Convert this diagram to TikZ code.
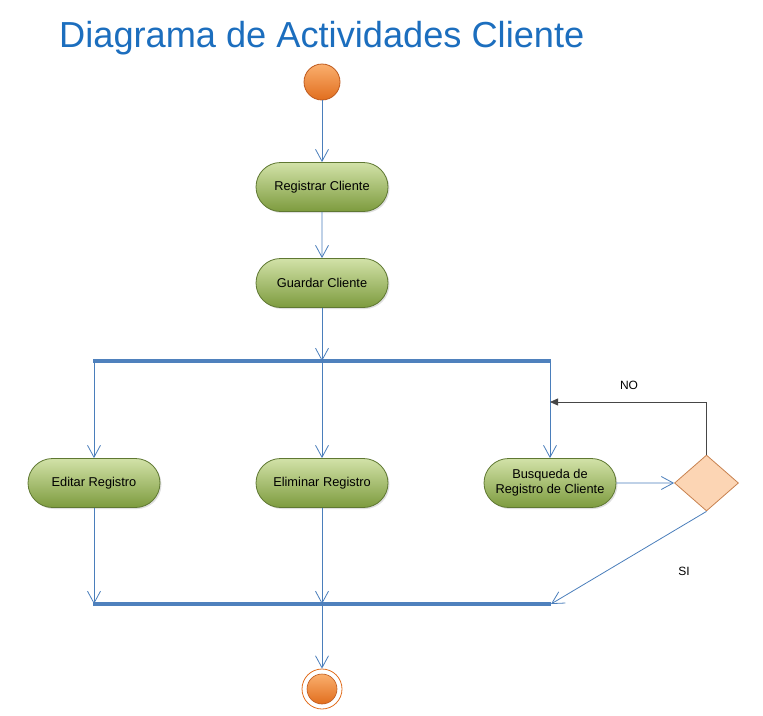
\documentclass[tikz,border=0pt]{standalone}
\usepackage{fontspec}
\setmainfont{Liberation Sans}
\usetikzlibrary{arrows.meta,shapes.geometric,shapes.misc,shadows}
\definecolor{titleblue}{RGB}{28,110,190}
\definecolor{lineblue}{RGB}{74,126,187}
\definecolor{barblue}{RGB}{79,129,189}
\definecolor{greentop}{RGB}{210,226,168}
\definecolor{greenbot}{RGB}{125,155,62}
\definecolor{greenborder}{RGB}{95,120,50}
\definecolor{orangetop}{RGB}{250,175,110}
\definecolor{orangebot}{RGB}{225,110,30}
\definecolor{orangeborder}{RGB}{190,90,30}
\definecolor{peach}{RGB}{252,213,180}
\definecolor{peachborder}{RGB}{200,130,80}
\definecolor{nogray}{RGB}{70,70,70}
\tikzset{
  activity/.style={rounded rectangle, draw=greenborder, line width=0.8pt,
    top color=greentop, bottom color=greenbot, minimum width=136pt, minimum height=49pt,
    font=\fontsize{12.8}{15}\selectfont, align=center, inner sep=2pt,
    drop shadow={shadow xshift=1.5pt, shadow yshift=-1.5pt, opacity=0.25}},
  startnode/.style={circle, draw=orangeborder, line width=0.8pt, top color=orangetop,
    bottom color=orangebot, minimum size=36pt, inner sep=0pt},
  flow/.style={draw=lineblue, line width=0.8pt, -{Straight Barb[length=12pt,width=13pt,line width=0.8pt]}},
  bar/.style={draw=barblue, line width=4.5pt},
  decision/.style={diamond, draw=peachborder, line width=0.8pt, fill=peach,
    minimum width=64pt, minimum height=56pt, inner sep=0pt, aspect=1.14},
  lbl/.style={font=\fontsize{12}{14}\selectfont}
}
\begin{document}
\begin{tikzpicture}[x=1pt,y=-1pt]
\useasboundingbox (0,0) rectangle (763,715);
\node[anchor=base west, text=titleblue, font=\fontsize{36.2}{42}\selectfont, inner sep=0pt] (title) at (59,47) {Diagrama de Actividades Cliente};

\node[startnode] (start) at (322,82) {};
\node[activity] (reg) at (322,187) {Registrar Cliente};
\node[activity] (guar) at (322,283) {Guardar Cliente};

\coordinate (forkL) at (93,361);
\coordinate (forkR) at (551,361);
\coordinate (forkM) at (322,361);
\coordinate (forkE) at (94,361);
\coordinate (forkB) at (550,361);
\draw[bar] (forkL) -- (forkR);

\node[activity] (edit) at (94,483) {Editar Registro};
\node[activity] (elim) at (322,483) {Eliminar Registro};
\node[activity] (busq) at (550,483) {Busqueda de\\Registro de Cliente};
\node[decision] (dec) at (706.5,483) {};

\coordinate (joinL) at (93,604);
\coordinate (joinR) at (551,604);
\coordinate (joinE) at (94,604);
\coordinate (joinM) at (322,604);
\coordinate (joinB) at (551,604);
\draw[bar] (joinL) -- (joinR);

\node[circle, draw=orangebot, line width=0.8pt, minimum size=40pt, inner sep=0pt, fill=white] (end) at (322,689) {};
\node[circle, draw=orangeborder, line width=0.6pt, top color=orangetop, bottom color=orangebot, minimum size=30pt, inner sep=0pt] (endin) at (end.center) {};

\draw[flow] (start) -- (reg);
\draw[flow] (reg) -- (guar);
\draw[flow] (guar) -- (forkM);
\draw[flow] (forkE) -- (edit);
\draw[flow] (forkM) -- (elim);
\draw[flow] (forkB) -- (busq);
\draw[flow] (busq) -- (dec);
\draw[flow] (edit) -- (joinE);
\draw[flow] (elim) -- (joinM);
\draw[flow] (dec.south) -- (joinB);
\draw[flow] (joinM) -- (end);

\coordinate (noturn) at (706.5,402);
\coordinate (noend) at (550,402);
\draw[draw=nogray, line width=0.8pt, -{Triangle[length=8pt,width=7pt]}] (dec.north) -- (noturn) -- (noend);
\node[lbl] (no) at (629,385) {NO};
\node[lbl] (si) at (684,571) {SI};
\end{tikzpicture}
\end{document}
